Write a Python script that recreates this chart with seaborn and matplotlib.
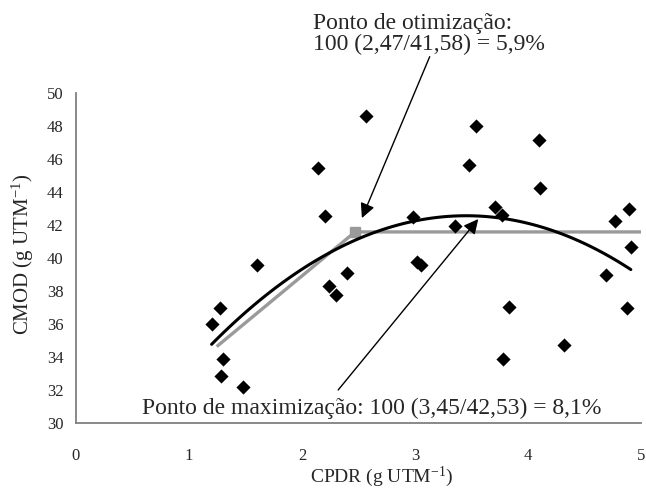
import matplotlib
matplotlib.use("Agg")
import matplotlib.pyplot as plt
import seaborn as sns
import pandas as pd

# scatter data
cpdr = [1.20, 1.27, 1.30, 1.28, 1.48, 1.60, 2.14, 2.20, 2.24, 2.30, 2.40, 2.57,
        2.98, 3.02, 3.05, 3.35, 3.48, 3.54, 3.71, 3.77, 3.78, 3.83, 4.10, 4.11,
        4.32, 4.69, 4.77, 4.88, 4.89, 4.91]
cmod = [35.98, 36.95, 33.86, 32.87, 32.18, 39.60, 45.45, 42.56, 38.30, 37.78, 39.11, 48.59,
        42.48, 39.75, 39.60, 41.96, 45.64, 47.98, 43.09, 42.61, 33.86, 37.03, 47.17, 44.22,
        34.75, 38.97, 42.26, 36.99, 42.99, 40.69]

# linear-plateau model: start, optimum point, end
plateau_x = [1.245, 2.47, 5.0]
plateau_y = [34.63, 41.58, 41.58]
opt_point = (2.47, 41.58)

xticks = [0, 1, 2, 3, 4, 5]
yticks = [30, 32, 34, 36, 38, 40, 42, 44, 46, 48, 50]

df = pd.DataFrame({"CPDR": cpdr, "CMOD": cmod})

sns.set_style("white")
plt.rcParams["font.family"] = ["Liberation Serif", "DejaVu Serif"]
plt.rcParams["mathtext.fontset"] = "custom"
plt.rcParams["mathtext.rm"] = "Liberation Serif"
plt.rcParams["mathtext.default"] = "regular"

fig = plt.figure(figsize=(6.46, 4.93), dpi=100)
ax = fig.add_axes([76 / 646, 1 - 423 / 493, 565 / 646, 330 / 493])

# quadratic fit
sns.regplot(data=df, x="CPDR", y="CMOD", order=2, ci=None, scatter=False,
            truncate=True, color="black", line_kws={"lw": 2.2, "zorder": 3}, ax=ax)

# linear plateau
ax.plot(plateau_x, plateau_y, color="#9a9a9a", lw=2.4, zorder=2, solid_capstyle="butt")
ax.plot([opt_point[0]], [opt_point[1]], marker="s", ms=7.5, color="#9a9a9a", zorder=2)

sns.scatterplot(data=df, x="CPDR", y="CMOD", marker="D", s=52, color="black",
                edgecolor="black", linewidth=0, zorder=4, ax=ax)

ax.set_xlim(0, 5)
ax.set_ylim(30, 50)
ax.set_xticks(xticks)
ax.set_yticks(yticks)
ax.set_xticklabels([str(t) for t in xticks])
ax.set_yticklabels([str(t) for t in yticks])

for side in ["top", "right"]:
    ax.spines[side].set_visible(False)
for side in ["left", "bottom"]:
    ax.spines[side].set_color("#808080")
    ax.spines[side].set_linewidth(1.3)
ax.tick_params(axis="x", direction="out", length=5, width=1.2, color="#808080",
               labelsize=12, pad=13)
ax.tick_params(axis="y", direction="out", length=5, width=1.2, color="#808080",
               labelsize=12, pad=4)

ax.set_xlabel("CPDR (g UTM$^{-1}$)", fontsize=14)
ax.set_ylabel("CMOD (g UTM$^{-1}$)", fontsize=15)
ax.xaxis.set_label_coords(0.54, -0.125)
ax.yaxis.set_label_coords(-0.07, 0.51)

# annotations
ax.text(2.10, 54.85, "Ponto de otimização:\n100 (2,47/41,58) = 5,9%", fontsize=17,
        ha="left", va="top", linespacing=1.0, clip_on=False)
ax.annotate("", xy=(2.53, 42.42), xytext=(3.13, 52.2), annotation_clip=False,
            arrowprops=dict(arrowstyle="-|>", mutation_scale=22, lw=1, color="black",
                            shrinkA=0, shrinkB=0))
ax.text(2.62, 30.91, "Ponto de maximização: 100 (3,45/42,53) = 8,1%", fontsize=17,
        ha="center", va="center", zorder=5)
ax.annotate("", xy=(3.56, 42.36), xytext=(2.32, 32.0), annotation_clip=False,
            arrowprops=dict(arrowstyle="-|>", mutation_scale=22, lw=1, color="black",
                            shrinkA=0, shrinkB=0))

fig.savefig("out.png", dpi=100)
